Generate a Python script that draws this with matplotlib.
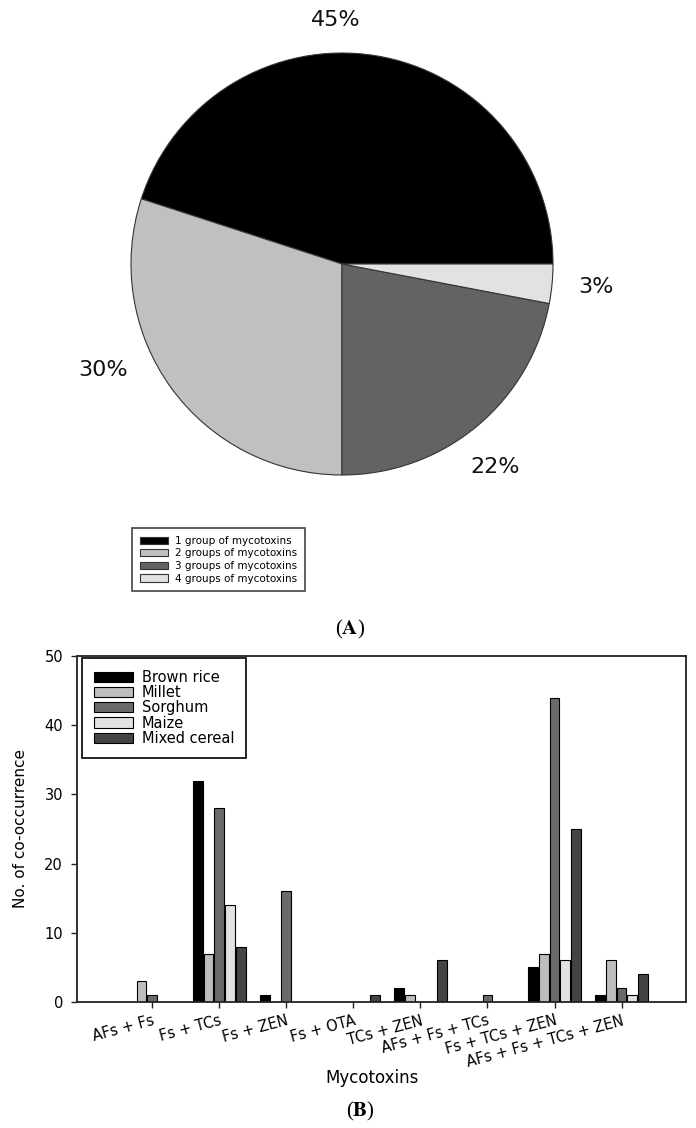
import numpy as np
import matplotlib
matplotlib.use("Agg")
import matplotlib.pyplot as plt
from matplotlib.patches import Patch

# ---------------- data ----------------
pie_labels = ["1 group of mycotoxins", "2 groups of mycotoxins",
              "3 groups of mycotoxins", "4 groups of mycotoxins"]
pie_shares = [45, 30, 22, 3]
pie_colors = ["#000000", "#c0c0c0", "#636363", "#e2e2e2"]

combos = ["AFs + Fs", "Fs + TCs", "Fs + ZEN", "Fs + OTA", "TCs + ZEN",
          "AFs + Fs + TCs", "Fs + TCs + ZEN", "AFs + Fs + TCs + ZEN"]
cereals = ["Brown rice", "Millet", "Sorghum", "Maize", "Mixed cereal"]
brown_rice = [0, 32, 1, 0, 2, 0, 5, 1]
millet = [3, 7, 0, 0, 1, 0, 7, 6]
sorghum = [1, 28, 16, 0, 0, 1, 44, 2]
maize = [0, 14, 0, 0, 0, 0, 6, 1]
mixed_cereal = [0, 8, 0, 1, 6, 0, 25, 4]
bar_colors = ["#000000", "#bdbdbd", "#6a6a6a", "#e2e2e2", "#444444"]

W, H = 696, 1128
fig = plt.figure(figsize=(W / 100, H / 100), dpi=100)

# ---------------- (A) pie ----------------
cx, cy, r = 342, 264, 211
ax_pie = fig.add_axes([(cx - r) / W, 1 - (cy + r) / H, 2 * r / W, 2 * r / H])
wedges, _, autotexts = ax_pie.pie(
    pie_shares, colors=pie_colors, startangle=0, counterclock=True,
    wedgeprops=dict(edgecolor="#333333", linewidth=0.8),
    autopct="%1.0f%%", pctdistance=1.2,
    textprops=dict(fontsize=16, color="#111111"))
ax_pie.set_xlim(-1, 1)
ax_pie.set_ylim(-1, 1)
label_pos = [(-0.03, 1.156), (-1.133, -0.502), (0.725, -0.962), (1.204, -0.109)]
for t, p in zip(autotexts, label_pos):
    t.set_position(p)
    t.set_ha("center")
    t.set_va("center")

leg1 = fig.legend(
    handles=[Patch(facecolor=c, edgecolor="#333333", linewidth=0.8) for c in pie_colors],
    labels=pie_labels, loc="upper left",
    bbox_to_anchor=(132 / W, 1 - 528 / H), bbox_transform=fig.transFigure,
    borderaxespad=0, fontsize=7.5, handlelength=2.7, handleheight=0.7,
    handletextpad=0.65, labelspacing=0.25, borderpad=0.75,
    fancybox=False, edgecolor="#444444", framealpha=1)
leg1.get_frame().set_linewidth(1.2)

fig.text(350 / W, 1 - 629 / H, r"($\mathbf{A}$)", ha="center", va="center",
         fontsize=15, family="Liberation Serif", math_fontfamily="stix")

# ---------------- (B) bars ----------------
ax = fig.add_axes([77 / W, 1 - 1002 / H, 609 / W, 346 / H])
x = np.arange(len(combos))
step, width = 0.16, 0.145
series = [brown_rice, millet, sorghum, maize, mixed_cereal]
for k, (name, vals, col) in enumerate(zip(cereals, series, bar_colors)):
    ax.bar(x + (k - 2) * step, vals, width=width, color=col,
           edgecolor="black", linewidth=0.8, label=name)

ax.set_xlim(-1.12, 7.96)
ax.set_ylim(0, 50)
ax.set_yticks(range(0, 51, 10))
ax.set_xticks(x)
ax.set_xticklabels(combos, rotation=15, ha="right", va="top",
                   rotation_mode="anchor", fontsize=10.5)
ax.tick_params(axis="both", direction="out", length=4, width=1, color="#222222")
ax.tick_params(axis="y", labelsize=10.5, pad=6)
ax.tick_params(axis="x", pad=4)
for s in ax.spines.values():
    s.set_linewidth(1.3)
    s.set_color("#222222")

ax.set_ylabel("No. of co-occurrence", fontsize=11, labelpad=12)
fig.text(372 / W, 1 - 1078 / H, "Mycotoxins", ha="center", va="center", fontsize=12)

leg2 = ax.legend(loc="upper left", bbox_to_anchor=(0.008, 0.994),
                 borderaxespad=0, fontsize=10.5, handlelength=2.7,
                 handleheight=0.7, handletextpad=0.6, labelspacing=0.02,
                 borderpad=0.8, fancybox=False, edgecolor="#111111", framealpha=1)
leg2.get_frame().set_linewidth(1.3)

fig.text(360 / W, 1 - 1111 / H, r"($\mathbf{B}$)", ha="center", va="center",
         fontsize=15, family="Liberation Serif", math_fontfamily="stix")

fig.savefig("out.png", dpi=100, facecolor="white")
